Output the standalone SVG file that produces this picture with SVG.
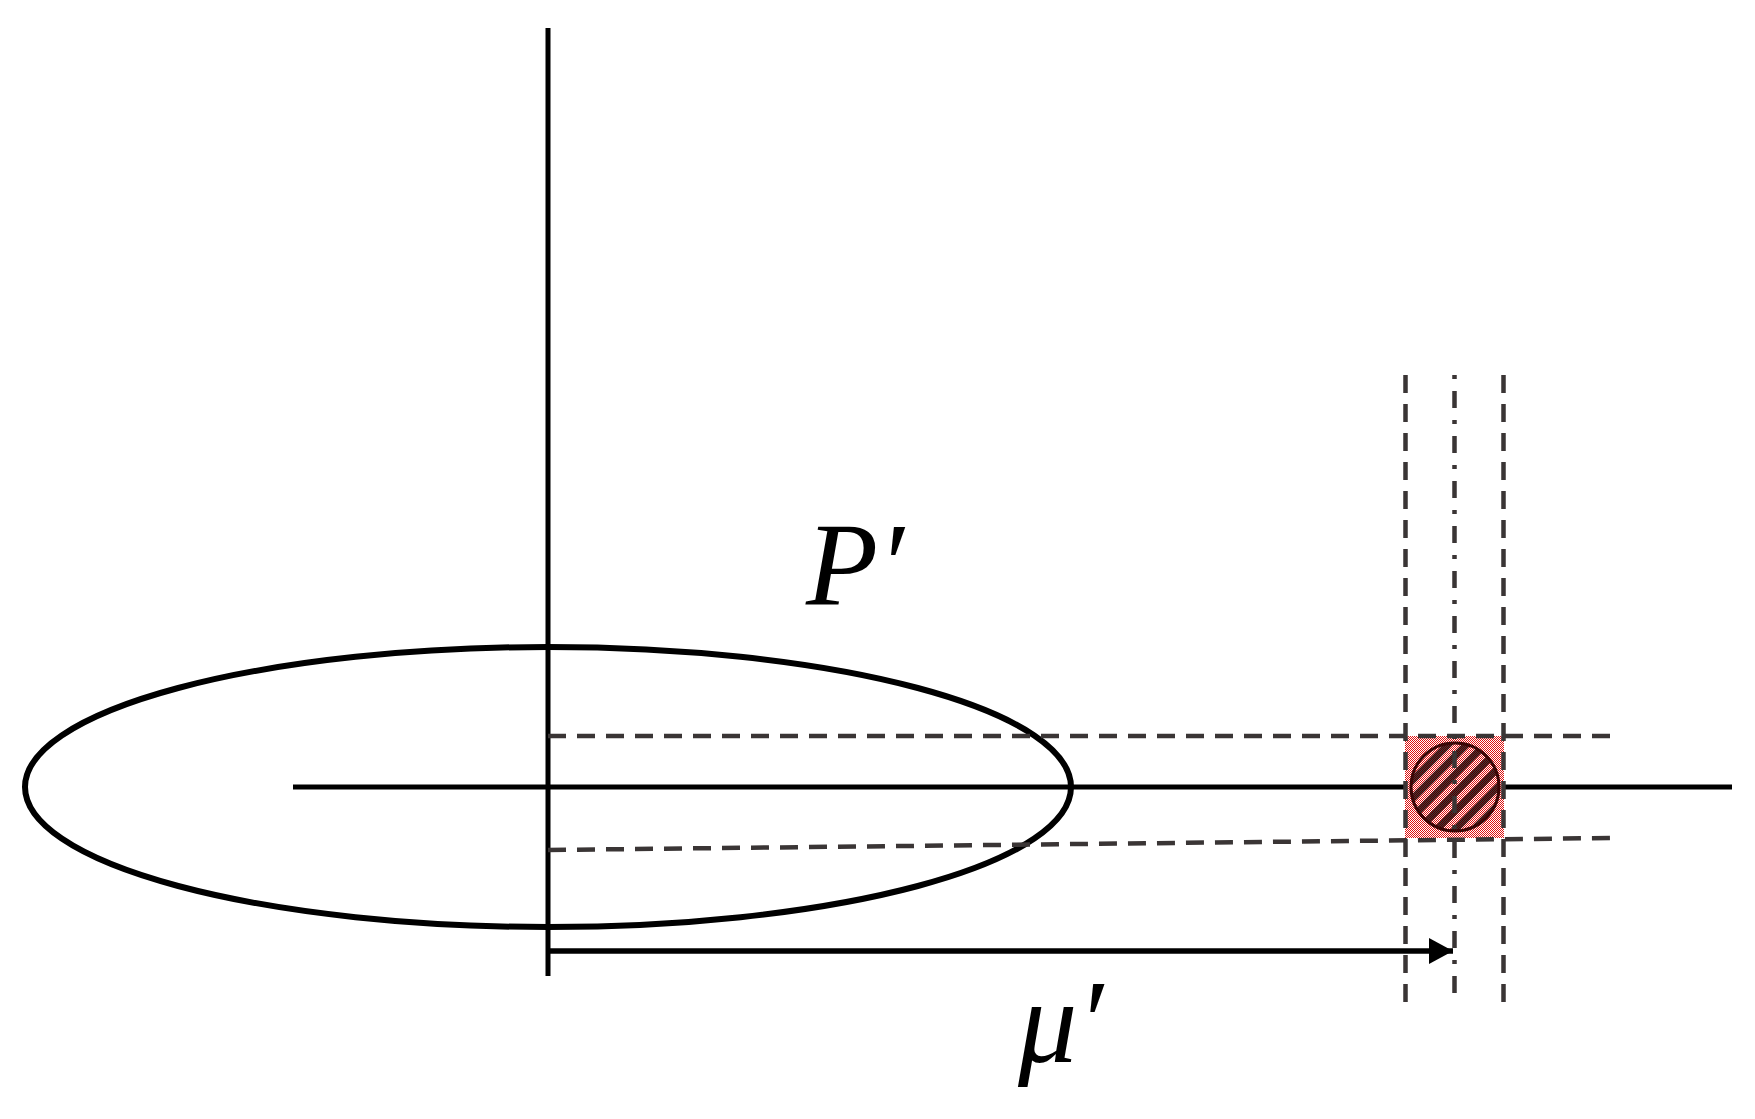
<svg xmlns="http://www.w3.org/2000/svg" width="1755" height="1119" viewBox="0 0 1755 1119">
<style>
.solid{stroke:#000;stroke-width:5;fill:none}
.dash{stroke:#3a3535;stroke-width:4.5;fill:none;stroke-dasharray:18 11}
.dashdot{stroke:#3a3535;stroke-width:4.5;fill:none;stroke-dasharray:4 12 17 12}
.lbl{font-family:"Liberation Serif","Times New Roman",serif;font-style:italic;font-size:118px;fill:#000}
</style>
<defs>
<pattern id="dots" width="2" height="2" patternUnits="userSpaceOnUse">
<rect width="2" height="2" fill="#ffffff"/>
<rect width="1" height="1" fill="#e01010"/>
<rect x="1" y="1" width="1" height="1" fill="#e01010"/>
</pattern>
<pattern id="hatch" width="13" height="13" patternUnits="userSpaceOnUse" patternTransform="rotate(-45)">
<rect width="13" height="7" fill="#200000" opacity="0.8"/>
</pattern>
<marker id="arrow" markerUnits="userSpaceOnUse" markerWidth="26" markerHeight="28" refX="24" refY="13" orient="auto">
<path d="M0,0 L24,13 L0,26 Z" fill="#000"/>
</marker>
</defs>
<rect width="1755" height="1119" fill="#ffffff"/>
<g id="axes">
<line class="solid" x1="548" y1="28" x2="548" y2="976"/>
<line class="solid" x1="293" y1="787" x2="1732" y2="787"/>
</g>
<g id="ellipse-P">
<ellipse cx="548" cy="787" rx="523" ry="140" fill="none" stroke="#000" stroke-width="6"/>
</g>
<g id="region">
<rect x="1405" y="736" width="99" height="102" fill="url(#dots)"/>
<circle cx="1455" cy="787" r="44" fill="url(#hatch)"/>
<circle cx="1455" cy="787" r="44" fill="none" stroke="#3a0505" stroke-width="3"/>
</g>
<g id="connectors">
<line class="dash" x1="548" y1="736" x2="1613" y2="736"/>
<line class="dash" x1="548" y1="850" x2="1613" y2="838"/>
<line class="dash" x1="1405.5" y1="375" x2="1405.5" y2="1002"/>
<line class="dash" x1="1503.5" y1="375" x2="1503.5" y2="1002"/>
<line class="dashdot" x1="1454.5" y1="375" x2="1454.5" y2="1002"/>
<line stroke="#000" stroke-width="5.5" x1="548" y1="951" x2="1453" y2="951" marker-end="url(#arrow)"/>
</g>
<g id="labels">
<text class="lbl" x="806" y="605">P′</text>
<text class="lbl" x="1018" y="1062">μ′</text>
</g>
</svg>
